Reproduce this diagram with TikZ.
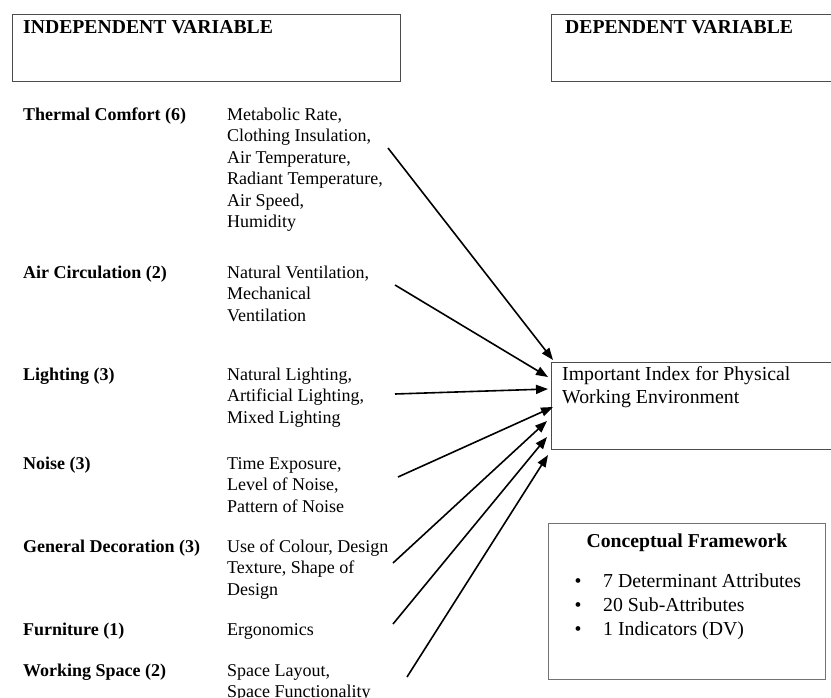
\documentclass[tikz,border=0pt]{standalone}
\usepackage{fontspec}
\setmainfont{Liberation Serif}
\usetikzlibrary{arrows.meta}
\begin{document}
\begin{tikzpicture}[x=1pt,y=-1pt,font=\fontsize{18}{21.5}\selectfont]

      \useasboundingbox (0,0) rectangle (831,698);

      \begin{scope}[every node/.style={draw=black!70, line width=1.2pt, anchor=north west, inner sep=0}]
        \node[minimum width=388, minimum height=67] (indep) at (12,14) {};
        \node[minimum width=300, minimum height=67] (dep)   at (551,14) {};
        \node[minimum width=300, minimum height=87] (index) at (551,362) {};
        \node[draw=black!55, minimum width=277, minimum height=156] (frame) at (548,523) {};
      \end{scope}

      \begin{scope}[every node/.style={anchor=north west, align=left, inner sep=0}]
        \node[font=\fontsize{19.7}{23.6}\bfseries] (indeptitle) at (23,17) {\strut INDEPENDENT VARIABLE};
        \node[font=\fontsize{19.7}{23.6}\bfseries] (deptitle)   at (565,17) {\strut DEPENDENT VARIABLE};
        \node[font=\fontsize{19.8}{23}\selectfont] (indextext) at (562,364.4)
          {\strut Important Index for Physical\\Working Environment};
        \node[anchor=north, font=\fontsize{19.7}{23.6}\bfseries] (frametitle) at (687,531) {\strut Conceptual Framework};
        \node[font=\fontsize{19.8}{24}\selectfont] (framelist) at (574.5,570.7)
          {\strut\makebox[28.5pt][l]{\textbullet}7 Determinant Attributes\\
           \makebox[28.5pt][l]{\textbullet}20 Sub-Attributes\\
           \makebox[28.5pt][l]{\textbullet}1 Indicators (DV)};

        \node[font=\fontsize{18}{21.5}\bfseries] (thermal)   at (23,105) {\strut Thermal Comfort (6)};
        \node[font=\fontsize{18}{21.5}\bfseries] (air)       at (23,263) {\strut Air Circulation (2)};
        \node[font=\fontsize{18}{21.5}\bfseries] (lighting)  at (23,365) {\strut Lighting (3)};
        \node[font=\fontsize{18}{21.5}\bfseries] (noise)     at (23,454) {\strut Noise (3)};
        \node[font=\fontsize{18}{21.5}\bfseries] (deco)      at (23,537) {\strut General Decoration (3)};
        \node[font=\fontsize{18}{21.5}\bfseries] (furniture) at (23,620) {\strut Furniture (1)};
        \node[font=\fontsize{18}{21.5}\bfseries] (space)     at (23,661) {\strut Working Space (2)};

        \node (thermalsub)   at (227,105) {\strut Metabolic Rate,\\Clothing Insulation,\\Air Temperature,\\Radiant Temperature,\\Air Speed,\\Humidity};
        \node (airsub)       at (227,263) {\strut Natural Ventilation,\\Mechanical\\Ventilation};
        \node (lightingsub)  at (227,365) {\strut Natural Lighting,\\Artificial Lighting,\\Mixed Lighting};
        \node (noisesub)     at (227,454) {\strut Time Exposure,\\Level of Noise,\\Pattern of Noise};
        \node (decosub)      at (227,537) {\strut Use of Colour, Design\\Texture, Shape of\\Design};
        \node (furnituresub) at (227,620) {\strut Ergonomics};
        \node (spacesub)     at (227,661) {\strut Space Layout,\\Space Functionality};
      \end{scope}

      \coordinate (s1) at (388,148);  \coordinate (t1) at (553,360);
      \coordinate (s2) at (395,285);  \coordinate (t2) at (548,377);
      \coordinate (s3) at (395,394);  \coordinate (t3) at (548,389);
      \coordinate (s4) at (398,477);  \coordinate (t4) at (553,407);
      \coordinate (s5) at (393,563);  \coordinate (t5) at (547,421);
      \coordinate (s6) at (393,624);  \coordinate (t6) at (547,437);
      \coordinate (s7) at (407,677);  \coordinate (t7) at (548,455);

      \begin{scope}[every edge/.style={draw, line width=1.6pt, -{Triangle[length=12pt,width=9pt]}}]
        \foreach \i in {1,...,7}
          \path (s\i) edge (t\i);
      \end{scope}

    \end{tikzpicture}
\end{document}
